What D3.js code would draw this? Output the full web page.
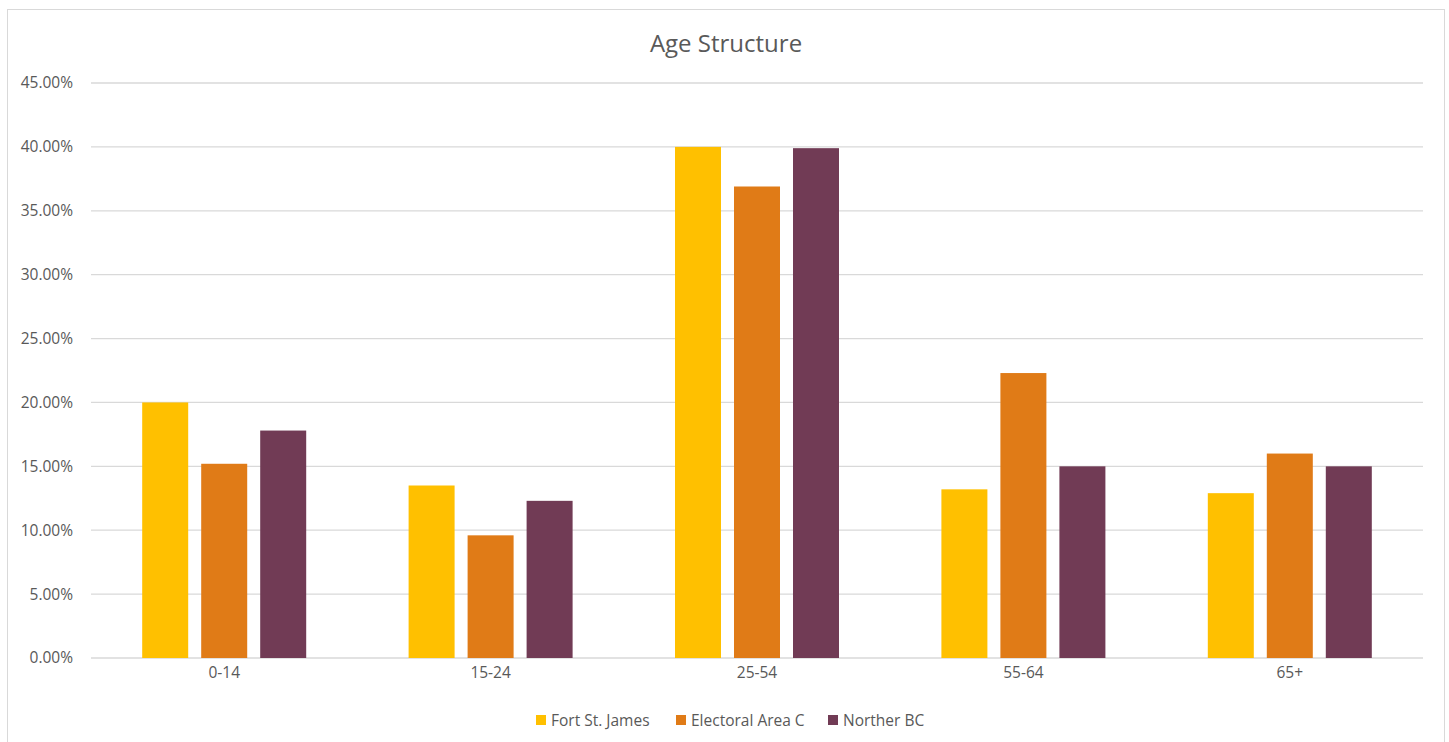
<!DOCTYPE html>
<html><head><meta charset="utf-8">
<script src="https://cdn.jsdelivr.net/npm/d3@7"></script>
<style>
html,body{margin:0;padding:0;background:#fff;}
svg{display:block;font-family:"Open Sans","Liberation Sans",sans-serif;}
</style></head>
<body>
<svg id="chart" width="1449" height="742"></svg>
<script>
const categories = ["0-14","15-24","25-54","55-64","65+"];
const seriesNames = ["Fort St. James","Electoral Area C","Norther BC"];
const fortStJames = [20.0, 13.5, 40.0, 13.2, 12.9];
const electoralAreaC = [15.2, 9.6, 36.9, 22.3, 16.0];
const northerBC = [17.8, 12.3, 39.9, 15.0, 15.0];
const yTicks = [0,5,10,15,20,25,30,35,40,45];
const colors = ["#FFC000","#E07B17","#713B55"];

(function(){
const seriesValues = [fortStJames, electoralAreaC, northerBC];
const svg = d3.select("#chart");
const pLeft = 91, pRight = 1423, pTop = 83, pBottom = 658;
const FS = "15.5px";

// outer border
svg.append("rect").attr("x",7.5).attr("y",9.5).attr("width",1437).attr("height",740)
  .attr("fill","none").attr("stroke","#D9D9D9").attr("stroke-width",1);

const x = d3.scaleBand().domain(categories).range([pLeft,pRight]).paddingInner(0).paddingOuter(0);
const y = d3.scaleLinear().domain([0,45]).range([pBottom,pTop]);
const bw = x.bandwidth();
const barW = bw*46/266.4, step = bw*59/266.4;
const xs = d3.scaleBand().domain(seriesNames).range([0, step*3]).paddingInner(0);

// gridlines
svg.append("g").selectAll("line").data(yTicks).join("line")
  .attr("x1",pLeft).attr("x2",pRight)
  .attr("y1",d=>y(d)).attr("y2",d=>y(d))
  .attr("stroke","#D9D9D9").attr("stroke-width",1.3);

// y axis labels
const yAxis = d3.axisLeft(y).tickValues(yTicks).tickSize(0).tickPadding(0)
  .tickFormat(d=>d.toFixed(2)+"%");
const yg = svg.append("g").attr("transform",`translate(${pLeft-18},0)`).call(yAxis);
yg.select(".domain").remove();
yg.selectAll("text").attr("fill","#595959").style("font-size",FS)
  .style("font-family",'"Open Sans","Liberation Sans",sans-serif');

// bars
seriesValues.forEach((vals,si)=>{
  svg.append("g").selectAll("rect").data(vals).join("rect")
    .attr("x",(d,i)=> x(categories[i]) + bw/2 - step*1.5 + xs(seriesNames[si]) + (step-barW)/2)
    .attr("width",barW)
    .attr("y",d=>y(d))
    .attr("height",d=>y(0)-y(d))
    .attr("fill",colors[si]);
});

// x axis labels
const xAxis = d3.axisBottom(x).tickSize(0).tickPadding(0);
const xg = svg.append("g").attr("transform",`translate(0,${pBottom+9})`).call(xAxis);
xg.select(".domain").remove();
xg.selectAll("text").attr("fill","#595959").style("font-size",FS).attr("dy","0.71em")
  .style("font-family",'"Open Sans","Liberation Sans",sans-serif');

// title
svg.append("text").attr("x",726).attr("y",52).attr("text-anchor","middle")
  .attr("fill","#595959").style("font-size","24px").text("Age Structure");

// legend
const legendX = [536, 676, 828];
const lg = svg.append("g");
seriesNames.forEach((n,i)=>{
  lg.append("rect").attr("x",legendX[i]).attr("y",715).attr("width",10).attr("height",10).attr("fill",colors[i]);
  lg.append("text").attr("x",legendX[i]+15).attr("y",726).attr("fill","#595959")
    .style("font-size",FS).text(n);
});
})();
</script>
</body></html>
